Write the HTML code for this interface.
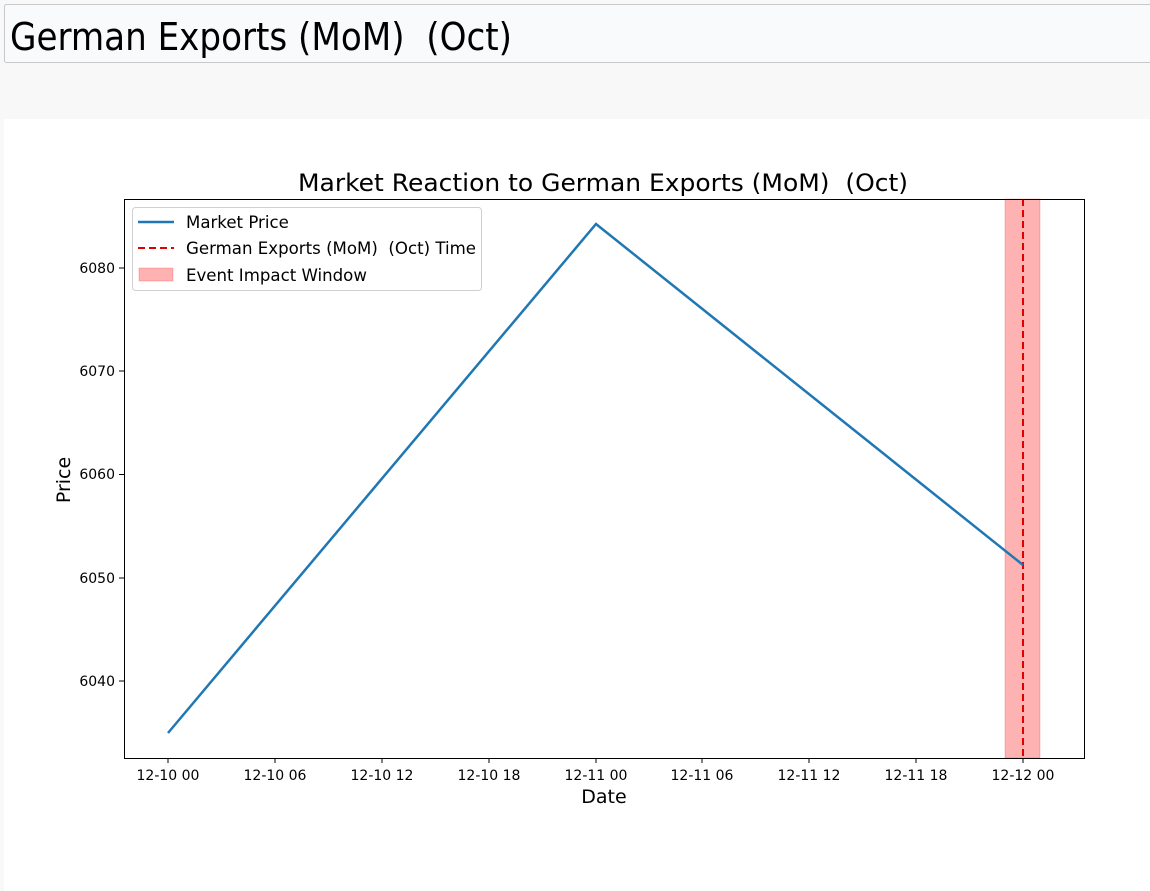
<!DOCTYPE html>
<html><head><meta charset="utf-8"><style>
html,body{margin:0;padding:0;background:#f8f8f8;width:1150px;height:891px;overflow:hidden}
svg{display:block}
text{white-space:pre}
</style></head><body>
<svg width="1150" height="891" xmlns="http://www.w3.org/2000/svg" font-family="DejaVu Sans, Liberation Sans, sans-serif">
<rect x="0" y="0" width="1150" height="891" fill="#f8f8f8"/>
<rect x="4.5" y="4.5" width="1150" height="58" fill="#f8fafc" stroke="#c8c8c8" rx="2"/>
<text x="10" y="50" font-size="38" font-family="DejaVu Sans Condensed, DejaVu Sans, sans-serif" textLength="502" lengthAdjust="spacingAndGlyphs" fill="#000">German Exports (MoM)&#160; (Oct)</text>
<rect x="4" y="119" width="1146" height="772" fill="#fff"/>
<text x="298" y="191" font-size="24" textLength="610" lengthAdjust="spacingAndGlyphs" fill="#000">Market Reaction to German Exports (MoM)&#160; (Oct)</text>
<rect x="1005" y="199" width="35" height="559" fill="#ff0000" fill-opacity="0.3" stroke="#ff0000" stroke-opacity="0.2"/>
<line x1="1023" y1="199" x2="1023" y2="758" stroke="#e00000" stroke-width="2" stroke-dasharray="7,4"/>
<polyline points="168,733 596,224 1023,565" fill="none" stroke="#1f77b4" stroke-width="2.5"/>
<rect x="124.5" y="199.5" width="960" height="559" fill="none" stroke="#000" stroke-width="1"/>
<g stroke="#000" stroke-width="1">
<line x1="168" y1="758" x2="168" y2="763"/><line x1="275" y1="758" x2="275" y2="763"/><line x1="382" y1="758" x2="382" y2="763"/><line x1="489" y1="758" x2="489" y2="763"/><line x1="596" y1="758" x2="596" y2="763"/><line x1="702" y1="758" x2="702" y2="763"/><line x1="809" y1="758" x2="809" y2="763"/><line x1="916" y1="758" x2="916" y2="763"/><line x1="1023" y1="758" x2="1023" y2="763"/>
<line x1="119" y1="681" x2="124" y2="681"/><line x1="119" y1="578" x2="124" y2="578"/><line x1="119" y1="474.5" x2="124" y2="474.5"/><line x1="119" y1="371" x2="124" y2="371"/><line x1="119" y1="268" x2="124" y2="268"/>
</g>
<g font-size="14" fill="#000" text-anchor="middle">
<text x="168" y="780">12-10 00</text><text x="275" y="780">12-10 06</text><text x="382" y="780">12-10 12</text><text x="489" y="780">12-10 18</text><text x="596" y="780">12-11 00</text><text x="702" y="780">12-11 06</text><text x="809" y="780">12-11 12</text><text x="916" y="780">12-11 18</text><text x="1023" y="780">12-12 00</text>
</g>
<g font-size="14" fill="#000" text-anchor="end">
<text x="115" y="686">6040</text><text x="115" y="583">6050</text><text x="115" y="479">6060</text><text x="115" y="376">6070</text><text x="115" y="273">6080</text>
</g>
<text x="604" y="803" font-size="19" text-anchor="middle">Date</text>
<text transform="translate(70,480) rotate(-90)" font-size="19" text-anchor="middle">Price</text>
<rect x="132.5" y="207.5" width="349" height="83" rx="3" fill="#fff" fill-opacity="0.8" stroke="#d0d0d0"/>
<line x1="138" y1="222" x2="174" y2="222" stroke="#1f77b4" stroke-width="2.5"/>
<line x1="138" y1="248" x2="174" y2="248" stroke="#e00000" stroke-width="2" stroke-dasharray="7,4"/>
<rect x="139" y="268" width="34" height="13" fill="#ff0000" fill-opacity="0.3" stroke="#ff0000" stroke-opacity="0.2"/>
<g font-size="16.6" fill="#000">
<text x="186" y="228">Market Price</text>
<text x="186" y="254" textLength="290" lengthAdjust="spacingAndGlyphs">German Exports (MoM)&#160; (Oct) Time</text>
<text x="186" y="281">Event Impact Window</text>
</g>
</svg>
</body></html>
